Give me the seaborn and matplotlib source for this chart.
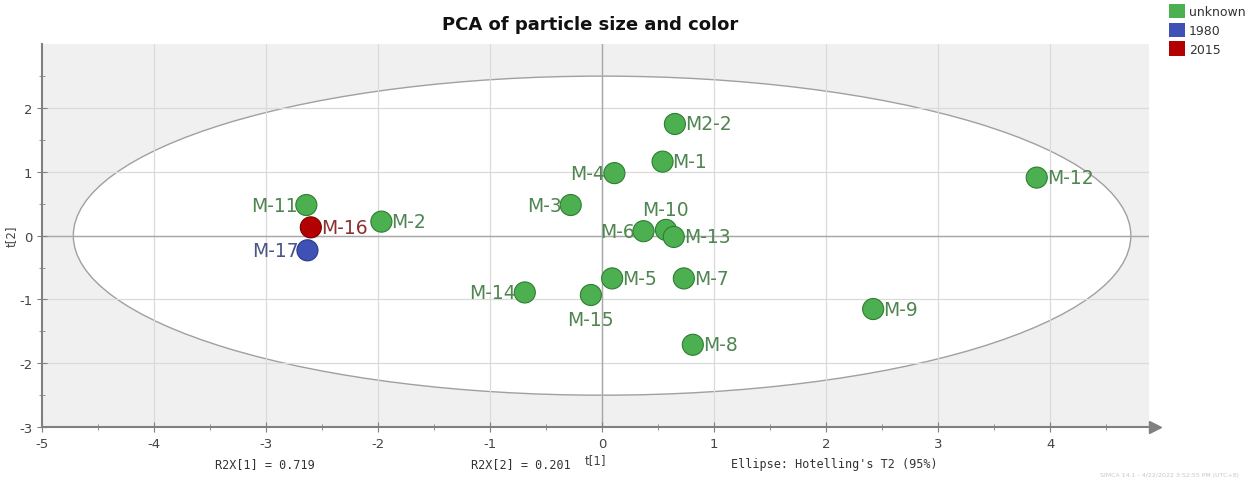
import matplotlib
matplotlib.use("Agg")
import matplotlib.pyplot as plt
from matplotlib.patches import Ellipse, Patch
import seaborn as sns
import pandas as pd

plt.rcParams["axes.unicode_minus"] = False

# PCA scores (t[1], t[2]) per sample
names = ["M2-2", "M-1", "M-4", "M-3", "M-6", "M-10", "M-13", "M-5", "M-7",
         "M-14", "M-15", "M-8", "M-11", "M-16", "M-2", "M-17", "M-12", "M-9"]
t1 = [0.65, 0.54, 0.11, -0.28, 0.37, 0.57, 0.64, 0.09, 0.73,
      -0.69, -0.10, 0.81, -2.64, -2.60, -1.97, -2.63, 3.88, 2.42]
t2 = [1.75, 1.16, 0.98, 0.48, 0.07, 0.09, -0.02, -0.67, -0.67,
      -0.89, -0.93, -1.71, 0.48, 0.13, 0.22, -0.23, 0.91, -1.15]
groups = ["unknown"] * 13 + ["2015", "unknown", "1980", "unknown", "unknown"]
label_side = ["right", "right", "left", "left", "left", "above", "right", "right", "right",
              "left", "below", "right", "left", "right", "right", "left", "right", "right"]

group_order = ["unknown", "1980", "2015"]
fill_colors = {"unknown": "#4caf50", "1980": "#3f51b5", "2015": "#b30000"}
edge_colors = {"unknown": "#2e7d32", "1980": "#2a3a8a", "2015": "#7a0000"}
text_colors = {"unknown": "#4f8550", "1980": "#4a5585", "2015": "#8a3030"}

r2x = [0.719, 0.201]
ellipse_axes = (4.72, 2.5)

df = pd.DataFrame({"name": names, "t1": t1, "t2": t2, "group": groups})

fig = plt.figure(figsize=(12.45, 4.81), dpi=100)
ax = fig.add_axes([0.0337, 0.110, 0.889, 0.796])
ax.set_facecolor("#f0f0f0")

# Hotelling's T2 ellipse, white inside
ax.add_patch(Ellipse((0, 0), 2 * ellipse_axes[0], 2 * ellipse_axes[1],
                     facecolor="white", edgecolor="#a0a0a0", lw=1.0, zorder=0.5))

for v in range(-4, 5):
    ax.axvline(v, color="#dadada", lw=0.9, zorder=0.6)
for v in range(-2, 3):
    ax.axhline(v, color="#dadada", lw=0.9, zorder=0.6)
ax.axvline(0, color="#a8a8a8", lw=1.0, zorder=0.7)
ax.axhline(0, color="#a8a8a8", lw=1.0, zorder=0.7)

sns.scatterplot(data=df, x="t1", y="t2", hue="group", hue_order=group_order,
                palette=fill_colors, s=230, linewidth=0.8,
                edgecolor=[edge_colors[g] for g in groups],
                legend=False, ax=ax, zorder=3)

offsets = {"right": (10, 0, "left", "center"), "left": (-9, 0, "right", "center"),
           "above": (0, 20, "center", "center"), "below": (0, -25, "center", "center")}
for n, x, y, g, side in zip(names, t1, t2, groups, label_side):
    dx, dy, ha, va = offsets[side]
    ax.annotate(n, (x, y), xytext=(dx, dy), textcoords="offset pixels",
                ha=ha, va=va, fontsize=13.5, color=text_colors[g], zorder=4)

ax.set_xlim(-5, 4.88)
ax.set_ylim(-3, 3.0)
ax.set_xticks(range(-5, 5))
ax.set_yticks(range(-3, 3))
ax.set_xticks([v + 0.5 for v in range(-5, 5)], minor=True)
ax.set_yticks([v + 0.5 for v in range(-3, 3)], minor=True)
ax.tick_params(which="both", direction="inout", color="#808080", labelsize=9.5,
               labelcolor="#444444")
ax.tick_params(which="major", length=7)
ax.tick_params(which="minor", length=4)
for s in ["top", "right"]:
    ax.spines[s].set_visible(False)
for s in ["left", "bottom"]:
    ax.spines[s].set_color("#808080")
    ax.spines[s].set_linewidth(1.5)
# arrow head at the end of the t[1] axis
ax.plot(1.006, 0, marker=">", color="#808080", markersize=9,
        transform=ax.transAxes, clip_on=False)

ax.set_xlabel("t[1]", fontsize=8.5, color="#444444", labelpad=2)
ax.set_ylabel("t[2]", fontsize=8.5, color="#444444")
ax.yaxis.set_label_coords(-0.022, 0.5)

fig.text(0.474, 0.948, "PCA of particle size and color", ha="center", va="center",
         fontsize=13, fontweight="bold", color="#111111")

mono = "DejaVu Sans Mono"
fig.text(0.213, 0.034, f"R2X[1] = {r2x[0]:.3f}", ha="center", va="center",
         fontsize=8.5, family=mono, color="#333333")
fig.text(0.418, 0.034, f"R2X[2] = {r2x[1]:.3f}", ha="center", va="center",
         fontsize=8.5, family=mono, color="#333333")
fig.text(0.670, 0.034, "Ellipse: Hotelling's T2 (95%)", ha="center", va="center",
         fontsize=8.5, family=mono, color="#333333")
fig.text(0.995, 0.012, "SIMCA 14.1 - 4/22/2022 3:52:55 PM (UTC+8)", ha="right",
         va="center", fontsize=4.5, color="#c8c8c8")

handles = [Patch(facecolor=fill_colors[g], edgecolor="none") for g in group_order]
fig.legend(handles, group_order, loc="upper left", bbox_to_anchor=(0.939, 0.990),
           frameon=False, fontsize=9, handlelength=1.3, handleheight=1.4,
           handletextpad=0.3, labelspacing=0.35, borderaxespad=0, borderpad=0,
           labelcolor="#333333")

fig.savefig("out.png", dpi=100)
